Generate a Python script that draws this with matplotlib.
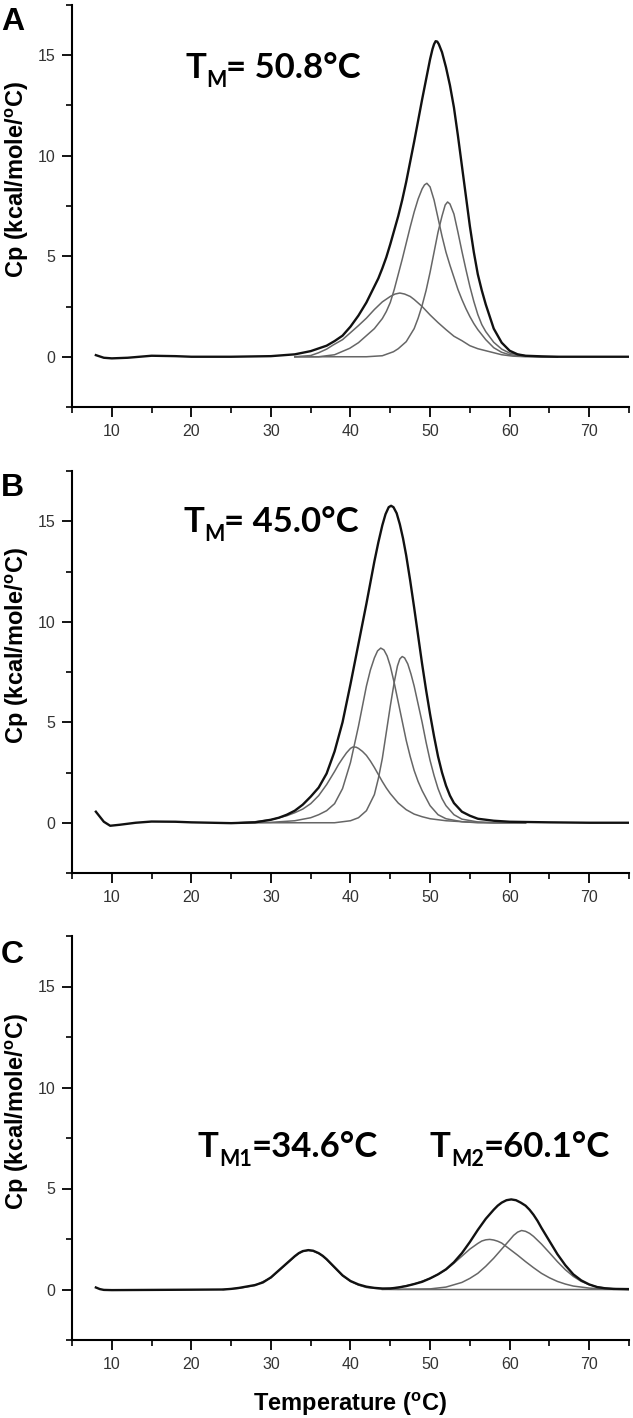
import matplotlib
matplotlib.use("Agg")
import matplotlib.pyplot as plt
from matplotlib.ticker import MultipleLocator

# ── Data ─────────────────────────────────────────────────
# Panel A : T_M = 50.8 °C, total + three fitted components
a_total_t = [8, 9, 10, 12, 15, 18, 20, 25, 30, 33, 35, 37, 38, 39, 40, 41, 42, 43, 43.5,
             44, 44.5, 45, 45.5, 46, 46.5, 47, 47.5, 48, 48.5, 49, 49.5, 50, 50.3, 50.5,
             50.7, 50.9, 51.1, 51.5, 52, 52.5, 53, 53.5, 54, 54.5, 55, 55.5, 56, 56.5, 57,
             58, 59, 60, 61, 62, 64, 66, 70, 75]
a_total_v = [0.08, -0.05, -0.08, -0.05, 0.05, 0.03, 0.0, 0.0, 0.03, 0.12, 0.28, 0.55, 0.78,
             1.05, 1.5, 2.05, 2.7, 3.5, 3.9, 4.4, 4.95, 5.6, 6.3, 7.0, 7.8, 8.7, 9.7, 10.7,
             11.75, 12.8, 13.8, 14.8, 15.3, 15.55, 15.7, 15.68, 15.55, 15.15, 14.4, 13.5,
             12.4, 11.0, 9.5, 8.0, 6.5, 5.2, 4.1, 3.3, 2.6, 1.4, 0.7, 0.3, 0.12, 0.05, 0.02,
             0.0, 0.0, 0.0]

a_broad_t = [33, 35, 36, 37, 37.8, 39, 40, 41, 42, 43, 44, 45, 45.6, 46.2, 46.8, 47.5, 48,
             49, 50, 51, 52, 53, 54, 55, 56, 57.5, 59, 60.4, 62, 66]
a_broad_v = [0.0, 0.06, 0.2, 0.38, 0.58, 0.85, 1.2, 1.55, 1.92, 2.35, 2.73, 3.0, 3.12, 3.17,
             3.12, 3.0, 2.85, 2.5, 2.08, 1.7, 1.35, 1.02, 0.8, 0.55, 0.4, 0.25, 0.1, 0.03,
             0.0, 0.0]

a_mid_t = [33, 36, 38, 39.9, 41, 42, 43, 44, 44.5, 45, 45.5, 46, 46.5, 47, 47.5, 48, 48.5,
           49, 49.3, 49.6, 50, 50.5, 51, 51.5, 52, 52.5, 53, 53.5, 54, 54.5, 55, 55.5, 56,
           57, 58, 59, 60, 62, 64, 66]
a_mid_v = [0.0, 0.0, 0.1, 0.42, 0.7, 1.05, 1.4, 1.9, 2.25, 2.7, 3.35, 4.1, 4.85, 5.65, 6.45,
           7.2, 7.85, 8.35, 8.55, 8.63, 8.45, 7.8, 6.9, 6.0, 5.2, 4.55, 3.95, 3.35, 2.85,
           2.4, 2.0, 1.65, 1.35, 0.85, 0.45, 0.22, 0.1, 0.03, 0.0, 0.0]

a_right_t = [33, 42, 44, 45.4, 46, 47, 48, 48.5, 49, 49.5, 50, 50.5, 51, 51.5, 51.9, 52.2,
             52.5, 53, 53.5, 54, 54.5, 55, 55.5, 56, 56.5, 57, 58, 59, 60, 62, 64, 66]
a_right_v = [0.0, 0.0, 0.05, 0.25, 0.4, 0.75, 1.4, 1.92, 2.55, 3.3, 4.2, 5.2, 6.2, 7.0, 7.55,
             7.7, 7.6, 7.1, 6.2, 5.25, 4.35, 3.5, 2.75, 2.1, 1.6, 1.25, 0.72, 0.38, 0.18,
             0.05, 0.0, 0.0]

# Panel B : T_M = 45.0 °C
b_total_t = [8, 8.5, 9, 9.8, 11, 13, 15, 18, 20, 25, 28, 30, 31, 32, 33, 34, 35, 36, 37,
             38, 39, 40, 40.5, 41, 41.5, 42, 42.5, 43, 43.5, 44, 44.4, 44.8, 45.1, 45.4,
             45.8, 46.2, 46.6, 47, 47.5, 48, 48.5, 49, 49.5, 50, 50.5, 51, 51.5, 52, 52.5,
             53, 54, 55, 56, 58, 60, 65, 70, 75]
b_total_v = [0.55, 0.3, 0.05, -0.15, -0.1, 0.0, 0.06, 0.05, 0.02, -0.02, 0.02, 0.15, 0.25,
             0.4, 0.6, 0.9, 1.3, 1.75, 2.45, 3.55, 5.0, 6.9, 7.9, 8.9, 9.9, 10.9, 11.95, 13.0,
             13.95, 14.8, 15.35, 15.7, 15.77, 15.7, 15.4, 14.85, 14.15, 13.3, 12.05, 10.7,
             9.3, 7.9, 6.6, 5.4, 4.3, 3.3, 2.5, 1.85, 1.35, 0.98, 0.55, 0.35, 0.2, 0.1, 0.05,
             0.02, 0.0, 0.0]

b_broad_t = [26, 28, 30, 32, 33, 34, 35, 36, 37, 38, 38.5, 39, 39.5, 40, 40.3, 40.7, 41,
             41.5, 42, 42.5, 43, 43.5, 44, 44.5, 45, 46, 47, 48, 49, 50, 52, 55, 58, 62]
b_broad_v = [0.0, 0.05, 0.15, 0.35, 0.5, 0.68, 0.95, 1.35, 1.9, 2.55, 2.9, 3.2, 3.48, 3.7,
             3.77, 3.76, 3.7, 3.55, 3.35, 3.07, 2.75, 2.4, 2.05, 1.73, 1.45, 0.98, 0.65, 0.43,
             0.3, 0.2, 0.1, 0.03, 0.0, 0.0]

b_mid_t = [26, 30, 33, 35, 36, 37, 38, 39, 40, 41, 41.5, 42, 42.5, 43, 43.4, 43.8, 44.2,
           44.6, 45, 45.5, 46, 46.5, 47, 47.5, 48, 48.5, 49, 50, 51, 52, 54, 56, 62]
b_mid_v = [0.0, 0.02, 0.1, 0.25, 0.4, 0.6, 0.95, 1.7, 3.0, 4.8, 5.8, 6.8, 7.6, 8.2, 8.55,
           8.69, 8.6, 8.3, 7.8, 6.95, 6.0, 5.05, 4.1, 3.3, 2.6, 2.05, 1.6, 0.85, 0.4, 0.2,
           0.05, 0.0, 0.0]

b_right_t = [26, 38, 40, 41, 42, 43, 43.5, 44, 44.5, 45, 45.5, 45.9, 46.2, 46.5, 46.8, 47.2,
             47.6, 48, 48.5, 49, 49.5, 50, 50.5, 51, 51.5, 52, 53, 54, 56, 58, 62]
b_right_v = [0.0, 0.0, 0.1, 0.25, 0.6, 1.4, 2.2, 3.2, 4.5, 5.8, 7.0, 7.8, 8.15, 8.27, 8.2,
             7.9, 7.4, 6.8, 5.9, 5.0, 4.0, 3.1, 2.35, 1.7, 1.2, 0.85, 0.4, 0.18, 0.04, 0.0,
             0.0]

# Panel C : T_M1 = 34.6 °C, T_M2 = 60.1 °C
c_total_t = [8, 8.5, 9, 10, 15, 20, 24, 25, 26, 27, 28, 29, 30, 31, 32, 33, 33.5, 34, 34.7,
             35.3, 36, 36.5, 37, 38, 39, 40, 41, 42, 43, 44, 45, 46, 47, 48, 49, 50, 51, 52,
             53, 54, 55, 56, 57, 58, 58.5, 59, 59.6, 60.2, 60.8, 61.4, 62, 62.5, 63, 63.5,
             64, 65, 66, 67, 68, 69, 70, 71, 72, 73, 75]
c_total_v = [0.1, 0.02, -0.02, -0.03, -0.02, -0.01, 0.0, 0.03, 0.08, 0.15, 0.22, 0.35, 0.6,
             0.95, 1.3, 1.65, 1.8, 1.9, 1.95, 1.92, 1.8, 1.67, 1.5, 1.1, 0.7, 0.42, 0.25,
             0.14, 0.08, 0.05, 0.05, 0.1, 0.17, 0.27, 0.38, 0.55, 0.75, 1.0, 1.35, 1.8, 2.35,
             2.95, 3.5, 3.95, 4.15, 4.3, 4.42, 4.46, 4.42, 4.3, 4.15, 3.95, 3.7, 3.4, 3.05,
             2.4, 1.75, 1.2, 0.75, 0.45, 0.25, 0.12, 0.06, 0.03, 0.02]

c_fit1_t = [24, 26, 28, 30, 31, 32, 33, 33.5, 34, 34.7, 35.3, 36, 36.5, 37, 38, 39, 40, 41,
            42, 44, 46, 75]
c_fit1_v = [0.0, 0.06, 0.2, 0.58, 0.93, 1.28, 1.63, 1.78, 1.88, 1.94, 1.9, 1.78, 1.65, 1.48,
            1.08, 0.68, 0.4, 0.22, 0.1, 0.02, 0.0, 0.0]

c_fit2_t = [44, 46, 48, 50, 51, 52, 53, 54, 55, 56, 56.5, 57, 57.5, 58, 58.5, 59, 60, 61,
            62, 63, 64, 65, 66, 67, 68, 70, 72, 75]
c_fit2_v = [0.03, 0.1, 0.27, 0.55, 0.75, 0.98, 1.3, 1.65, 2.0, 2.28, 2.4, 2.46, 2.48, 2.45,
            2.39, 2.3, 2.0, 1.7, 1.38, 1.08, 0.8, 0.58, 0.4, 0.27, 0.17, 0.07, 0.02, 0.0]

c_fit3_t = [44, 50, 52, 54, 55, 56, 57, 58, 59, 60, 60.5, 61, 61.5, 62, 62.5, 63, 64, 65,
            66, 67, 68, 69, 70, 71, 72, 74, 75]
c_fit3_v = [0.0, 0.03, 0.12, 0.35, 0.55, 0.8, 1.15, 1.55, 2.0, 2.45, 2.68, 2.84, 2.92, 2.88,
            2.78, 2.63, 2.25, 1.82, 1.38, 0.98, 0.65, 0.4, 0.24, 0.13, 0.07, 0.02, 0.0]

panel_letters = ['A', 'B', 'C']
y_label = 'Cp (kcal/mole/$^{\\mathrm{o}}$C)'
x_label = 'Temperature ($^{\\mathrm{o}}$C)'

# ── Style ────────────────────────────────────────────────
W, H = 633, 1418
plt.rcParams['font.family'] = ['Liberation Sans', 'DejaVu Sans']
plt.rcParams['mathtext.fontset'] = 'custom'
plt.rcParams['mathtext.rm'] = 'Liberation Sans:bold'
plt.rcParams['mathtext.bf'] = 'Liberation Sans:bold'
plt.rcParams['mathtext.it'] = 'Liberation Sans:bold:italic'

TOTAL_KW = dict(color='#111111', lw=1.7, zorder=3, solid_joinstyle='round')
COMP_KW = dict(color='#666666', lw=1.1, zorder=2, solid_joinstyle='round')

fig = plt.figure(figsize=(W / 100, H / 100), dpi=100)
fig.patch.set_facecolor('white')


def add_panel(top, bottom, left=72, right=629):
    ax = fig.add_axes([left / W, 1 - bottom / H, (right - left) / W, (bottom - top) / H])
    ax.set_xlim(5, 75)
    ax.set_ylim(-2.5, 17.5)
    for s in ('top', 'right'):
        ax.spines[s].set_visible(False)
    for s in ('left', 'bottom'):
        ax.spines[s].set_linewidth(1.5)
    ax.xaxis.set_major_locator(MultipleLocator(10))
    ax.xaxis.set_minor_locator(MultipleLocator(5))
    ax.yaxis.set_major_locator(MultipleLocator(5))
    ax.yaxis.set_minor_locator(MultipleLocator(2.5))
    ax.tick_params(which='major', direction='out', length=7, width=1.3,
                   labelsize=11.5, labelcolor='#333333', pad=5)
    ax.tick_params(which='minor', direction='out', length=4, width=1.2)
    ax.set_ylabel(y_label, fontsize=17, fontweight='bold')
    ax.yaxis.set_label_coords(-0.074, 0.565)
    return ax


ax_a = add_panel(5, 407)
ax_b = add_panel(471, 873)
ax_c = add_panel(936, 1340)

for t, v in [(a_broad_t, a_broad_v), (a_mid_t, a_mid_v), (a_right_t, a_right_v)]:
    ax_a.plot(t, v, **COMP_KW)
ax_a.plot(a_total_t, a_total_v, **TOTAL_KW)

for t, v in [(b_broad_t, b_broad_v), (b_mid_t, b_mid_v), (b_right_t, b_right_v)]:
    ax_b.plot(t, v, **COMP_KW)
ax_b.plot(b_total_t, b_total_v, **TOTAL_KW)

for t, v in [(c_fit1_t, c_fit1_v), (c_fit2_t, c_fit2_v), (c_fit3_t, c_fit3_v)]:
    ax_c.plot(t, v, **COMP_KW)
ax_c.plot(c_total_t, c_total_v, **TOTAL_KW)

ax_c.set_xlabel(x_label, fontsize=17, fontweight='bold')
ax_c.xaxis.set_label_coords(0.5, -0.125)

# panel letters
for letter, base in zip(panel_letters, [30, 496, 963]):
    fig.text(1 / W, 1 - base / H, letter, fontsize=23, fontweight='bold',
             va='baseline', ha='left')

# T_M annotations, pieces chained left to right
renderer = fig.canvas.get_renderer()


def tm_label(x_px, base_px, pieces):
    x = x_px
    for s, size, drop in pieces:
        t = fig.text(x / W, 1 - (base_px + drop) / H, s, fontsize=size,
                     family=['Lato', 'DejaVu Sans'], fontweight='bold',
                     va='baseline', ha='left')
        x = t.get_window_extent(renderer).x1


tm_label(185, 78, [('T', 25, 0), ('M', 15.5, 9), ('= 50.8°C', 25, 0)])
tm_label(183, 532, [('T', 25, 0), ('M', 15.5, 9), ('= 45.0°C', 25, 0)])
tm_label(198, 1157, [('T', 25, 0), ('M1', 15.5, 9), ('=34.6°C', 25, 0)])
tm_label(430, 1157, [('T', 25, 0), ('M2', 15.5, 9), ('=60.1°C', 25, 0)])

fig.savefig('out.png', dpi=100, facecolor='white')
